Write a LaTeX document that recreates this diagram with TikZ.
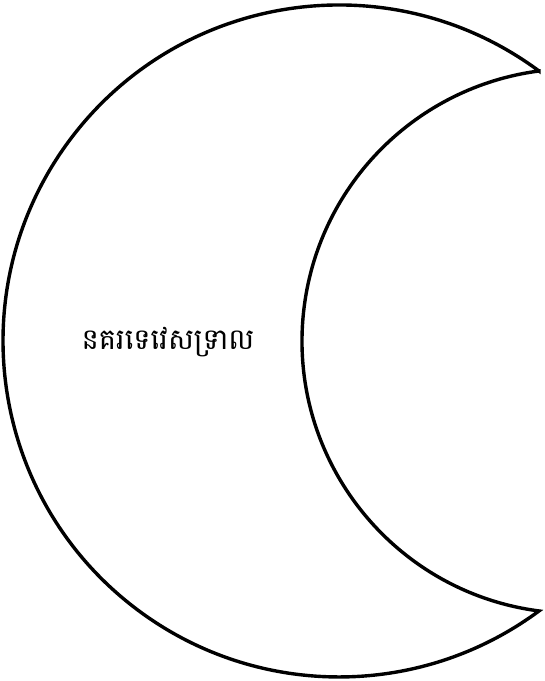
\documentclass[tikz,border=0pt]{standalone}
\usepackage{fontspec}
\newfontfamily\khmerfont[Script=Khmer]{Battambang}
\tikzset{moonline/.style={draw=black, line width=3.4pt, line join=miter},
  label/.style={font=\khmerfont\fontsize{29}{34}\selectfont, inner sep=0pt}}
\begin{document}
\begin{tikzpicture}[x=1pt,y=1pt]
\useasboundingbox (0,0) rectangle (545,681);
\coordinate (tipT) at (539,610);
\path[moonline] (tipT) arc[start angle=53.47, end angle=306.53, radius=336]
  arc[start angle=262.55, end angle=97.45, radius=272.3] -- cycle;
\node[label] (t) at (168,339) {នគរទេវេសទ្រាល};
\end{tikzpicture}
\end{document}
